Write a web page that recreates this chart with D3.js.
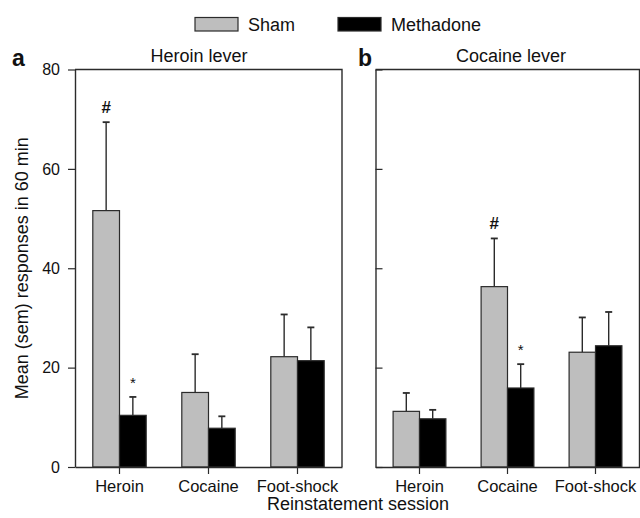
<!DOCTYPE html>
<html>
<head>
<meta charset="utf-8">
<script src="https://cdn.jsdelivr.net/npm/d3@7"></script>
<style>
  body { margin: 0; background: #fff; }
  svg { display: block; font-family: "Liberation Sans", Arial, sans-serif; }
</style>
</head>
<body>
<svg id="chart" width="640" height="518"></svg>
<script>
// ---- data ----
const sessions = ["Heroin", "Cocaine", "Foot-shock"];
const seriesNames = ["Sham", "Methadone"];
const yTicks = [0, 20, 40, 60, 80];

const heroinLeverSham = [51.6, 15.0, 22.2];
const heroinLeverShamSem = [17.8, 7.7, 8.5];
const heroinLeverMeth = [10.4, 7.8, 21.4];
const heroinLeverMethSem = [3.7, 2.4, 6.7];

const cocaineLeverSham = [11.2, 36.3, 23.1];
const cocaineLeverShamSem = [3.7, 9.7, 7.0];
const cocaineLeverMeth = [9.7, 15.9, 24.4];
const cocaineLeverMethSem = [1.8, 4.8, 6.8];

// significance markers: [series index, session index, symbol]
const heroinLeverMarks = [[0, 0, "#"], [1, 0, "*"]];
const cocaineLeverMarks = [[0, 1, "#"], [1, 1, "*"]];

// ---- drawing ----
const svg = d3.select("#chart");
const colors = ["#bebebe", "#000000"];
const stroke = "#2b2b2b";

const y = d3.scaleLinear().domain([0, 80]).range([467, 69.5]);

function panel(opts) {
  const g = svg.append("g");
  const x = d3.scaleBand().domain(sessions).range([opts.x0, opts.x1]).padding(0);
  const bw = x.bandwidth() * 0.3;
  const cx = s => x(s) + x.bandwidth() / 2;
  const vals = [opts.sham, opts.meth];
  const sems = [opts.shamSem, opts.methSem];

  // frame (top and right)
  g.append("path")
    .attr("d", `M${opts.x0},${y(80)}H${opts.x1}V${y(0)}`)
    .attr("fill", "none").attr("stroke", stroke).attr("stroke-width", 1.4);

  // error bars (drawn under bars)
  vals.forEach((arr, si) => {
    arr.forEach((v, i) => {
      const xc = cx(sessions[i]) + (si === 0 ? -bw / 2 : bw / 2);
      const top = y(v + sems[si][i]);
      g.append("line").attr("x1", xc).attr("x2", xc).attr("y1", y(v)).attr("y2", top)
        .attr("stroke", stroke).attr("stroke-width", 1.4);
      g.append("line").attr("x1", xc - 3.5).attr("x2", xc + 3.5).attr("y1", top).attr("y2", top)
        .attr("stroke", stroke).attr("stroke-width", 1.8);
    });
  });

  // bars
  vals.forEach((arr, si) => {
    g.selectAll(null).data(arr).enter().append("rect")
      .attr("x", (d, i) => cx(sessions[i]) + (si === 0 ? -bw : 0))
      .attr("y", d => y(d))
      .attr("width", bw)
      .attr("height", d => y(0) - y(d))
      .attr("fill", colors[si])
      .attr("stroke", stroke).attr("stroke-width", 1.2);
  });

  // markers
  opts.marks.forEach(([si, i, sym]) => {
    const xc = cx(sessions[i]) + (si === 0 ? -bw / 2 : bw / 2);
    const top = y(vals[si][i] + sems[si][i]);
    g.append("text").attr("x", xc).attr("y", top - 9)
      .attr("text-anchor", "middle")
      .attr("font-size", sym === "#" ? 17 : 15)
      .attr("font-weight", sym === "#" ? "bold" : "normal")
      .attr("fill", "#111").text(sym);
  });

  // x axis
  const xAxis = d3.axisBottom(x).tickSize(7).tickSizeOuter(0).tickPadding(6);
  const xa = g.append("g").attr("transform", `translate(0,${y(0)})`).call(xAxis);
  xa.select(".domain").attr("stroke", stroke).attr("stroke-width", 1.4);
  xa.selectAll(".tick line").attr("stroke", stroke).attr("stroke-width", 1.2);
  xa.selectAll(".tick text").attr("font-size", 16.5).attr("fill", "#111")
    .attr("font-family", "Liberation Sans, Arial, sans-serif");

  // y axis
  const yAxis = opts.labels
    ? d3.axisLeft(y).tickValues(yTicks).tickSize(7).tickSizeOuter(0).tickPadding(8)
    : d3.axisRight(y).tickValues(yTicks).tickSize(7).tickSizeOuter(0).tickFormat("");
  const ya = g.append("g").attr("transform", `translate(${opts.x0},0)`).call(yAxis);
  ya.select(".domain").attr("stroke", stroke).attr("stroke-width", 1.4);
  ya.selectAll(".tick line").attr("stroke", stroke).attr("stroke-width", 1.2);
  ya.selectAll(".tick text").attr("font-size", 16).attr("fill", "#111")
    .attr("font-family", "Liberation Sans, Arial, sans-serif");

  // title
  g.append("text").attr("x", opts.titleX).attr("y", 62).attr("text-anchor", "middle")
    .attr("font-size", 18).attr("fill", "#111").text(opts.title);
  // panel letter
  g.append("text").attr("x", opts.letterX).attr("y", 66)
    .attr("font-size", 23).attr("font-weight", "bold").attr("fill", "#111").text(opts.letter);
}

panel({ x0: 75, x1: 342, sham: heroinLeverSham, shamSem: heroinLeverShamSem,
        meth: heroinLeverMeth, methSem: heroinLeverMethSem, marks: heroinLeverMarks,
        labels: true, title: "Heroin lever", titleX: 199, letter: "a", letterX: 12 });
panel({ x0: 375.5, x1: 639.5, sham: cocaineLeverSham, shamSem: cocaineLeverShamSem,
        meth: cocaineLeverMeth, methSem: cocaineLeverMethSem, marks: cocaineLeverMarks,
        labels: false, title: "Cocaine lever", titleX: 511, letter: "b", letterX: 358 });

// y title
svg.append("text").attr("transform", `translate(28,${(y(0) + y(80)) / 2}) rotate(-90)`)
  .attr("text-anchor", "middle").attr("font-size", 18).attr("fill", "#111")
  .text("Mean (sem) responses in 60 min");

// x title
svg.append("text").attr("x", 358).attr("y", 510).attr("text-anchor", "middle")
  .attr("font-size", 18).attr("fill", "#111").text("Reinstatement session");

// legend
const legendX = [195, 338];
seriesNames.forEach((name, i) => {
  svg.append("rect").attr("x", legendX[i]).attr("y", 17.5).attr("width", 43).attr("height", 13.5)
    .attr("fill", colors[i]).attr("stroke", stroke).attr("stroke-width", 1.2);
  svg.append("text").attr("x", legendX[i] + 53).attr("y", 30.5)
    .attr("font-size", 18).attr("fill", "#111").text(name);
});
</script>
</body>
</html>
